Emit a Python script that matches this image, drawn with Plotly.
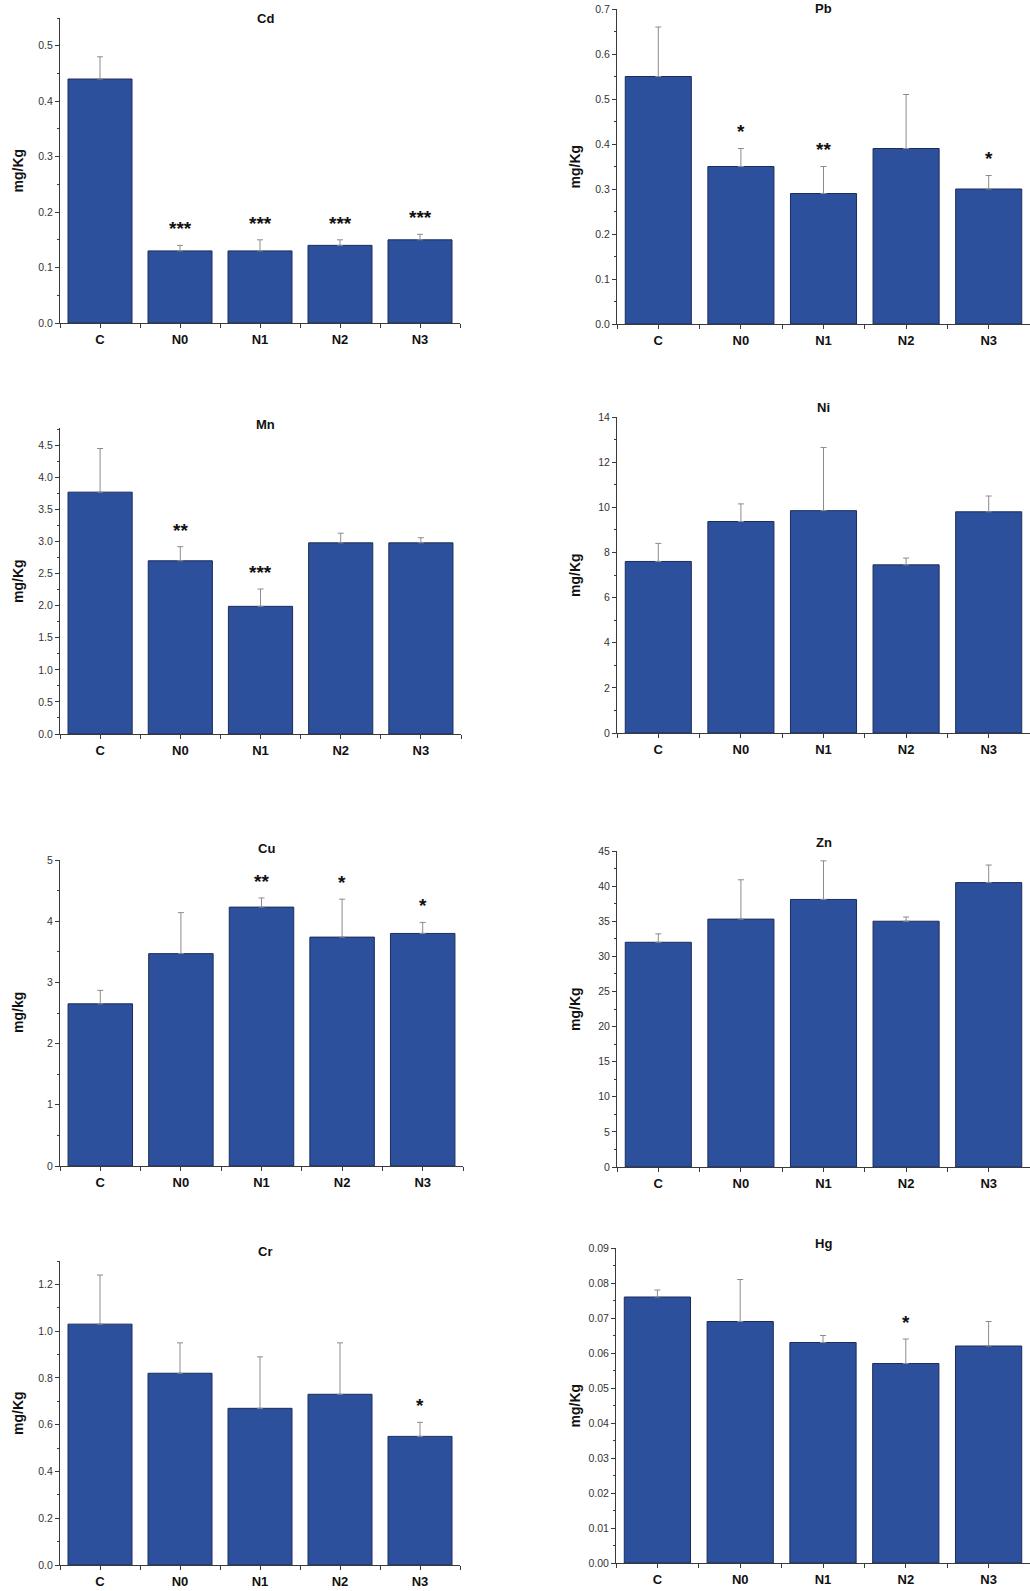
import plotly.graph_objects as go

W, H = 1030, 1591

groups = ["C", "N0", "N1", "N2", "N3"]

cd_mean = [0.44, 0.13, 0.13, 0.14, 0.15]
cd_err = [0.04, 0.01, 0.02, 0.01, 0.01]
cd_sig = ["", "***", "***", "***", "***"]

pb_mean = [0.55, 0.35, 0.29, 0.39, 0.30]
pb_err = [0.11, 0.04, 0.06, 0.12, 0.03]
pb_sig = ["", "*", "**", "", "*"]

mn_mean = [3.77, 2.70, 1.99, 2.98, 2.98]
mn_err = [0.68, 0.22, 0.27, 0.15, 0.08]
mn_sig = ["", "**", "***", "", ""]

ni_mean = [7.6, 9.37, 9.85, 7.45, 9.8]
ni_err = [0.8, 0.78, 2.8, 0.3, 0.7]
ni_sig = ["", "", "", "", ""]

cu_mean = [2.65, 3.47, 4.23, 3.74, 3.80]
cu_err = [0.22, 0.67, 0.15, 0.62, 0.18]
cu_sig = ["", "", "**", "*", "*"]

zn_mean = [32.0, 35.3, 38.1, 35.0, 40.5]
zn_err = [1.2, 5.6, 5.5, 0.6, 2.5]
zn_sig = ["", "", "", "", ""]

cr_mean = [1.03, 0.82, 0.67, 0.73, 0.55]
cr_err = [0.21, 0.13, 0.22, 0.22, 0.06]
cr_sig = ["", "", "", "", "*"]

hg_mean = [0.076, 0.069, 0.063, 0.057, 0.062]
hg_err = [0.002, 0.012, 0.002, 0.007, 0.007]
hg_sig = ["", "", "", "*", ""]

# panel specs: name, ylabel, mean, err, sig, ymax, dtick, minor, fmt, pixel box (x0,x1,y0,y1), title y
panels = [
    ("Cd", "mg/Kg", cd_mean, cd_err, cd_sig, 0.55, 0.1, 0.05, ".1f", (60, 460, 18, 323), 18),
    ("Pb", "mg/Kg", pb_mean, pb_err, pb_sig, 0.7, 0.1, 0.05, ".1f", (617, 1030, 9, 324), 8),
    ("Mn", "mg/Kg", mn_mean, mn_err, mn_sig, 4.77, 0.5, 0.25, ".1f", (60, 461, 428, 734), 424),
    ("Ni", "mg/Kg", ni_mean, ni_err, ni_sig, 14, 2, 1, "d", (617, 1030, 417, 733), 407),
    ("Cu", "mg/kg", cu_mean, cu_err, cu_sig, 5, 1, 0.5, "d", (60, 463, 860, 1166), 849),
    ("Zn", "mg/Kg", zn_mean, zn_err, zn_sig, 45, 5, 2.5, "d", (617, 1030, 851, 1167), 842),
    ("Cr", "mg/Kg", cr_mean, cr_err, cr_sig, 1.3, 0.2, 0.1, ".1f", (60, 460, 1261, 1565), 1251),
    ("Hg", "mg/Kg", hg_mean, hg_err, hg_sig, 0.09, 0.01, 0.005, ".2f", (616, 1030, 1248, 1563), 1243),
]

BAR = "#2c509c"
AX = "#3a3a3a"
FONT = "Liberation Sans, Arial, sans-serif"

fig = go.Figure()
annotations = []
xpos = list(range(len(groups)))

for i, (name, ylab, mean, err, sig, ymax, dtick, minor, fmt, box, ty) in enumerate(panels):
    k = "" if i == 0 else str(i + 1)
    x0, x1, y0, y1 = box
    fig.add_trace(go.Bar(
        x=xpos, y=mean, width=0.8,
        marker=dict(color=BAR, line=dict(color="#1c2c5c", width=1)),
        error_y=dict(type="data", symmetric=False, array=err, arrayminus=[0] * 5,
                     color="#8c8c8c", thickness=1, width=3),
        xaxis="x" + k, yaxis="y" + k, showlegend=False,
    ))
    dom_x = [x0 / W, min(x1 / W, 1.0)]
    dom_y = [1 - y1 / H, 1 - y0 / H]
    fig.update_layout(**{
        "xaxis" + k: dict(
            domain=dom_x, anchor="y" + k, range=[-0.5, 4.5], automargin=False,
            tickmode="array", tickvals=xpos, ticktext=groups,
            ticks="outside", ticklen=4, tickcolor=AX, tickwidth=1,
            minor=dict(tickmode="linear", tick0=0.5, dtick=1, ticks="outside", ticklen=4, tickcolor=AX),
            showline=True, linecolor=AX, linewidth=1, showgrid=False, zeroline=False,
            tickfont=dict(family=FONT, size=13, color="#111111", weight="bold"),
            fixedrange=True,
        ),
        "yaxis" + k: dict(
            domain=dom_y, anchor="x" + k, range=[0, ymax], automargin=False,
            tick0=0, dtick=dtick, tickformat=fmt,
            ticks="outside", ticklen=4, tickcolor=AX, tickwidth=1,
            minor=dict(dtick=minor, ticks="outside", ticklen=2, tickcolor=AX),
            showline=True, linecolor=AX, linewidth=1, showgrid=False, zeroline=False,
            tickfont=dict(family=FONT, size=10.5, color="#333333"),
            fixedrange=True,
        ),
    })
    # panel title
    annotations.append(dict(
        text=name, xref="paper", yref="paper",
        x=((x0 + x1) / 2 + (5 if x1 < 600 else 0)) / W, y=1 - ty / H,
        xanchor="center", yanchor="middle", showarrow=False,
        font=dict(family=FONT, size=13, color="#111111", weight="bold"),
    ))
    # y title
    annotations.append(dict(
        text=ylab, xref="paper", yref="paper",
        x=(x0 - 42) / W, y=1 - (y0 + y1) / 2 / H, textangle=-90,
        xanchor="center", yanchor="middle", showarrow=False,
        font=dict(family=FONT, size=14, color="#111111", weight="bold"),
    ))
    # significance stars
    for j, s in enumerate(sig):
        if s:
            annotations.append(dict(
                text=s, xref="x" + k, yref="y" + k, x=xpos[j], y=mean[j] + err[j],
                xanchor="center", yanchor="bottom", yshift=4, showarrow=False,
                font=dict(family=FONT, size=19, color="#111111", weight="bold"),
            ))

fig.update_layout(
    width=W, height=H, margin=dict(l=0, r=0, t=0, b=0, autoexpand=False),
    paper_bgcolor="white", plot_bgcolor="white",
    annotations=annotations, bargap=0.2,
)

fig.write_html(
    "out.html",
    config={"displayModeBar": False},
    post_script="document.body.style.margin='0';document.body.style.overflow='hidden';",
)
